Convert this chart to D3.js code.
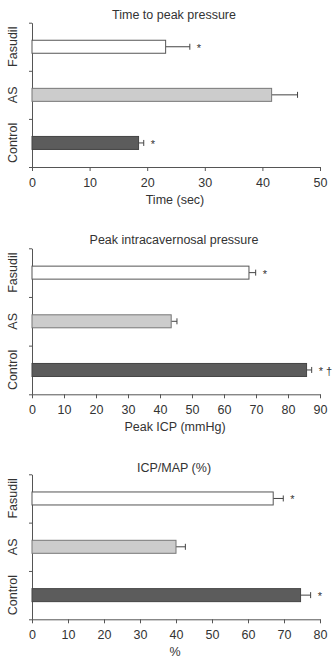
<!DOCTYPE html>
<html>
<head>
<meta charset="utf-8">
<script src="https://cdn.jsdelivr.net/npm/d3@7"></script>
<style>
  body { margin: 0; background: #fff; }
  text { font-family: "Liberation Sans", Arial, sans-serif; fill: #333; }
</style>
</head>
<body>
<div id="chart"></div>
<script>
// groups from top to bottom
const groups = ["Fasudil", "AS", "Control"];

const timeMean = [23.2, 41.6, 18.5];
const timeErr = [4.2, 4.5, 0.9];
const timeMarks = ["*", "", "*"];
const timeTicks = [0, 10, 20, 30, 40, 50];

const icpMean = [67.8, 43.5, 85.8];
const icpErr = [2.1, 1.8, 1.6];
const icpMarks = ["*", "", "* †"];
const icpTicks = [0, 10, 20, 30, 40, 50, 60, 70, 80, 90];

const ratioMean = [67.0, 40.0, 74.6];
const ratioErr = [2.8, 2.6, 2.8];
const ratioMarks = ["*", "", "*"];
const ratioTicks = [0, 10, 20, 30, 40, 50, 60, 70, 80];

const fills = ["#ffffff", "#cccccc", "#5c5c5c"];
const strokes = ["#555", "#777", "#444"];

const width = 333, height = 658;
const svg = d3.select("#chart").append("svg").attr("width", width).attr("height", height);

const panels = [
    { title: "Time to peak pressure", xlabel: "Time (sec)", mean: timeMean, err: timeErr, marks: timeMarks, ticks: timeTicks, top: 22.7, bottom: 167, titleY: 19, labelY: 204 },
    { title: "Peak intracavernosal pressure", xlabel: "Peak ICP (mmHg)", mean: icpMean, err: icpErr, marks: icpMarks, ticks: icpTicks, top: 248.3, bottom: 394.3, titleY: 244, labelY: 431 },
    { title: "ICP/MAP (%)", xlabel: "%", mean: ratioMean, err: ratioErr, marks: ratioMarks, ticks: ratioTicks, top: 474.3, bottom: 619.3, titleY: 471.5, labelY: 656 }
];

const left = 32, right = 320, barH = 13;

panels.forEach(p => {
    const g = svg.append("g");
    const x = d3.scaleLinear().domain([p.ticks[0], p.ticks[p.ticks.length - 1]]).range([left, right]);
    const y = d3.scaleBand().domain(groups).range([p.top, p.bottom]);
    const yb = d3.scaleLinear().domain([0, groups.length]).range([p.top, p.bottom]);

    // title
    g.append("text").attr("x", 174).attr("y", p.titleY).attr("text-anchor", "middle")
        .attr("font-size", 12.5).text(p.title);

    // y axis (band boundaries)
    const ya = g.append("g").attr("transform", `translate(${left},0)`)
        .call(d3.axisLeft(yb).tickValues(d3.range(groups.length + 1)).tickSize(3).tickSizeOuter(0).tickFormat(""));
    ya.selectAll("path, line").attr("stroke", "#555");

    // x axis
    const xa = g.append("g").attr("transform", `translate(0,${p.bottom})`)
        .call(d3.axisBottom(x).tickValues(p.ticks).tickSize(4).tickSizeOuter(0).tickPadding(7));
    xa.selectAll("path, line").attr("stroke", "#555");
    xa.selectAll("text").attr("font-size", 12.5).attr("fill", "#333");

    g.append("text").attr("x", 175).attr("y", p.labelY).attr("text-anchor", "middle")
        .attr("font-size", 12.5).text(p.xlabel);

    // group labels
    groups.forEach(name => {
        const cy = y(name) + y.bandwidth() / 2;
        g.append("text").attr("transform", `translate(17,${cy}) rotate(-90)`)
            .attr("text-anchor", "middle").attr("font-size", 12.5).text(name);
    });

    // bars, error bars, marks
    groups.forEach((name, i) => {
        const cy = y(name) + y.bandwidth() / 2;
        const xe = x(p.mean[i] + p.err[i]);
        g.append("line").attr("x1", x(p.mean[i])).attr("x2", xe).attr("y1", cy).attr("y2", cy)
            .attr("stroke", "#444").attr("stroke-width", 1);
        g.append("line").attr("x1", xe).attr("x2", xe).attr("y1", cy - 3).attr("y2", cy + 3)
            .attr("stroke", "#444").attr("stroke-width", 1);
        g.append("rect").attr("x", x(0)).attr("y", cy - barH / 2)
            .attr("width", x(p.mean[i]) - x(0)).attr("height", barH)
            .attr("fill", fills[i]).attr("stroke", strokes[i]).attr("stroke-width", 1);
        if (p.marks[i]) {
            g.append("text").attr("x", xe + 7).attr("y", cy + 5).attr("font-size", 11)
                .attr("fill", "#333").text(p.marks[i]);
        }
    });
});
</script>
</body>
</html>
